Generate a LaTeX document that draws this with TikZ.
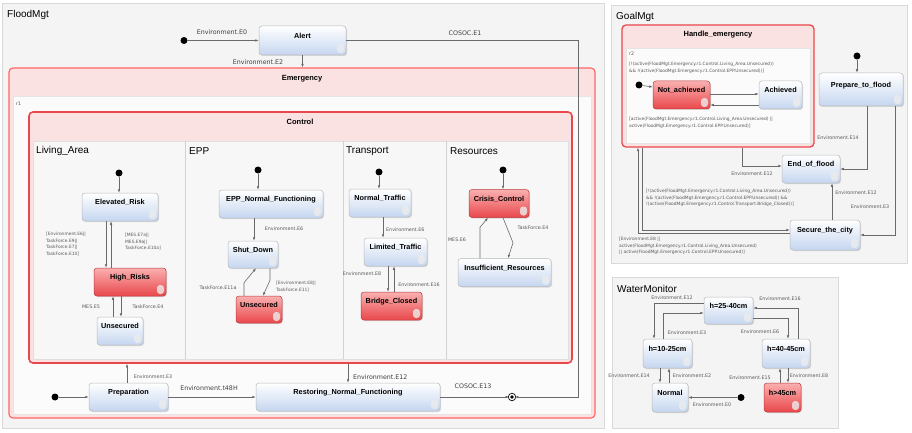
\documentclass[tikz,border=0pt]{standalone}
\usepackage{fontspec}
\setmainfont{Liberation Sans}
\newfontfamily\lblfont{DejaVu Sans}
\usetikzlibrary{arrows.meta,shadows}

\definecolor{stateblue}{HTML}{C5D6F0}
\definecolor{statered}{HTML}{E9474B}
\definecolor{statepink}{HTML}{FAB0B0}
\definecolor{bandpink}{HTML}{FBE2E2}
\definecolor{boxred}{HTML}{E8484B}
\definecolor{panelgray}{HTML}{F4F4F4}
\definecolor{linegray}{HTML}{6A6A6A}

\begin{document}
\begin{tikzpicture}
	[x=1pt, y=-1pt,
	state/.style={rectangle, rounded corners=3pt, draw=gray!55, line width=0.5pt, top color=white, bottom color=stateblue, font=\bfseries\fontsize{7.3}{8}\selectfont, text height=6pt, text depth=10.5pt, inner xsep=2pt, inner ysep=1pt, minimum height=28pt, drop shadow={opacity=0.25, shadow xshift=1pt, shadow yshift=-1pt}, path picture={\fill[gray!15, opacity=0.8] ([xshift=-2pt,yshift=2pt]path picture bounding box.south east) rectangle ++(-7pt,9pt);}},
	red state/.style={state, draw=statered!80!black, top color=statepink, bottom color=statered},
	init/.style={circle, fill=black, inner sep=0pt, minimum size=7pt},
	final/.style={circle, draw=black, fill=black, line width=0.8pt, double=white, double distance=1.4pt, inner sep=0pt, minimum size=5pt},
	tr/.style={draw=linegray, line width=0.6pt, -{Latex[length=3.5pt,width=2.6pt]}},
	lbl/.style={font=\lblfont\fontsize{6.3}{7}\selectfont, text=black!75, inner sep=0pt},
	small lbl/.style={font=\lblfont\fontsize{4.8}{5.5}\selectfont, text=black!65, inner sep=0pt},
	guard/.style={font=\lblfont\fontsize{4.4}{6.6}\selectfont, text=black!65, inner sep=0pt, align=left, anchor=north west},
	panel/.style={draw=gray!30, fill=panelgray},
	panel title/.style={font=\fontsize{10}{12}\selectfont, inner sep=0pt, anchor=west},
	container/.style={rectangle, rounded corners=4pt, fill=bandpink, inner sep=0pt},
	region/.style={rectangle, draw=gray!20, fill=white!97!gray, inner sep=0pt},
	box title/.style={font=\bfseries\fontsize{7.5}{9}\selectfont, inner sep=0pt}]
	\useasboundingbox[fill=white] (0,0) rectangle (912,433);

	%panels
	\foreach \a/\b/\c/\d/\t in {2/3/604/428/FloodMgt, 611/5/907/263/GoalMgt, 612/277/838/428/WaterMonitor}{
		\draw[panel] (\a,\b) rectangle (\c,\d);
		\node[panel title] (title-\t) at (\a+5,\b+12) {\t};
	}

	%FloodMgt containers
	\node[container, draw=red!60, line width=1.2pt, minimum width=586pt, minimum height=350pt] (emergency) at (302,243) {};
	\node[box title] (emergency-title) at (302,79) {Emergency};
	\node[region, minimum width=578pt, minimum height=318pt] (r1) at (302,255) {};
	\node[small lbl, anchor=west] (r1-label) at (16,104) {r1};
	\node[container, draw=boxred, line width=1.6pt, minimum width=543pt, minimum height=251pt] (control) at (300.5,237.5) {};
	\node[box title] (control-title) at (300,122) {Control};
	\node[region, draw=gray!25, fill=gray!6, minimum width=535pt, minimum height=218pt] (columns) at (300.5,250) {};
	\foreach \x in {185,343,446}
		\draw[gray!35] (\x,141) -- (\x,359);
	\foreach \x/\t [count=\i] in {36/Living\_Area, 189/EPP, 346/Transport, 450/Resources}
		\node[panel title] (col\i) at (\x,151) {\t};

	%top level
	\node[init] (fl0) at (184,40.5) {};
	\node[state, minimum width=87pt, minimum height=29pt] (alert) at (302.5,40.5) {Alert};
	\node[init] (fl1) at (55,397) {};
	\node[state, minimum width=79pt] (prep) at (128.5,397) {Preparation};
	\node[state, minimum width=184pt] (restoring) at (348,397) {Restoring\_Normal\_Functioning};
	\node[final] (fin) at (512,397) {};

	%Living_Area
	\node[init] (la0) at (119,173) {};
	\node[state, minimum width=76pt] (elevated) at (120,207) {Elevated\_Risk};
	\node[red state, minimum width=72pt] (high) at (130,282) {High\_Risks};
	\node[state, minimum width=46pt] (la-uns) at (120,331) {Unsecured};

	%EPP
	\node[init] (epp0) at (258,170) {};
	\node[state, minimum width=104pt] (epp-normal) at (271,204) {EPP\_Normal\_Functioning};
	\node[state, minimum width=50pt, minimum height=27pt] (shut) at (253,254.5) {Shut\_Down};
	\node[red state, minimum width=46pt, minimum height=27pt] (epp-uns) at (259,309.5) {Unsecured};

	%Transport
	\node[init] (tr0) at (379,172) {};
	\node[state, minimum width=62pt] (normal-traffic) at (380,203) {Normal\_Traffic};
	\node[state, minimum width=63pt] (limited) at (395.5,252) {Limited\_Traffic};
	\node[red state, minimum width=61pt] (bridge) at (391.5,306) {Bridge\_Closed};

	%Resources
	\node[init] (res0) at (503,170) {};
	\node[red state, minimum width=60pt] (crisis) at (499,203.5) {Crisis\_Control};
	\node[state, minimum width=93pt] (insuff) at (504.5,272.5) {Insufficient\_Resources};

	%FloodMgt transitions
	\draw[tr] (fl0) -- (fl0 -| alert.west);
	\node[lbl] (l-e0) at (222,32) {Environment.E0};
	\draw[tr] (alert) -- (alert |- emergency.north);
	\node[lbl] (l-e2) at (258,62) {Environment.E2};
	\draw[tr] (alert.east) -- ++(232,0) |- (fin);
	\node[lbl] (l-e1) at (465,33) {COSOC.E1};
	\draw[tr] (fl1) -- (prep);
	\draw[tr] (prep) -- (restoring);
	\node[lbl] (l-t48) at (209,388) {Environment.t48H};
	\draw[tr] ([xshift=-1.5pt]prep.north) -- ([xshift=-1.5pt]prep.north |- control.south);
	\node[small lbl] (l-e3) at (153,377) {Environment.E3};
	\draw[tr] (restoring.north |- control.south) -- (restoring.north);
	\node[lbl, anchor=west] (l-e12) at (353,377) {Environment.E12};
	\draw[tr] (restoring) -- (fin);
	\node[lbl] (l-e13) at (473,386) {COSOC.E13};

	\draw[tr] (la0) -- (la0 |- elevated.north);
	\draw[tr] ([xshift=-14pt]elevated.south) -- ([xshift=-14pt]elevated.south |- high.north);
	\draw[tr] ([xshift=-9pt]elevated.south |- high.north) -- ([xshift=-9pt]elevated.south);
	\draw[tr] ([xshift=1pt]la-uns.north |- high.south) -- ([xshift=1pt]la-uns.north);
	\draw[tr] ([xshift=-7pt]la-uns.north) -- ([xshift=-7pt]la-uns.north |- high.south);
	\node[guard] (g-la1) at (46,232) {[Environment.E6||\\TaskForce.E9||\\TaskForce.E7||\\TaskForce.E10]};
	\node[guard] (g-la2) at (125,233) {[MES.E7a||\\MES.E9a||\\TaskForce.E10a]};
	\node[small lbl] (l-mes5) at (91,307) {MES.E5};
	\node[small lbl] (l-tf4) at (148,307) {TaskForce.E4};

	\draw[tr] (epp0) -- (epp0 |- epp-normal.north);
	\draw[tr] ([xshift=1pt]shut.north |- epp-normal.south) -- ([xshift=1pt]shut.north);
	\node[small lbl] (l-epp6) at (284,229) {Environment.E6};
	\draw[tr] ([xshift=17pt]shut.south) -- ++(0,12) -- ([xshift=4pt]epp-uns.north);
	\draw[tr] ([xshift=-15pt]epp-uns.north) -- ++(0,-13) -- ([xshift=3pt]shut.south);
	\node[small lbl] (l-tf11a) at (218,288) {TaskForce.E11a};
	\node[guard] (g-epp) at (276,281) {[Environment.E8||\\TaskForce.E11]};

	\draw[tr] (tr0) -- (tr0 |- normal-traffic.north);
	\draw[tr] ([xshift=3pt]normal-traffic.south) -- ([xshift=3pt]normal-traffic.south |- limited.north);
	\node[small lbl, anchor=west] (l-tr6) at (386,230) {Environment.E6};
	\draw[tr] ([xshift=-3.5pt]bridge.north |- limited.south) -- ([xshift=-3.5pt]bridge.north);
	\draw[tr] ([xshift=2.5pt]bridge.north) -- ([xshift=2.5pt]bridge.north |- limited.south);
	\node[small lbl] (l-tr8) at (362,274) {Environment.E8};
	\node[small lbl] (l-tr16) at (419,285) {Environment.E16};

	\draw[tr] (res0) -- (res0 |- crisis.north);
	\draw[tr] ([xshift=4pt]crisis.south) -- ++(10,25) -- ([xshift=3.5pt]insuff.north);
	\draw[tr] ([xshift=-24.5pt]insuff.north) -- ++(0,-31) -- ([xshift=-11pt]crisis.south);
	\node[small lbl] (l-mes6) at (457,240) {MES.E6};
	\node[small lbl] (l-res4) at (533,228) {TaskForce.E4};

	%GoalMgt
	\node[container, draw=boxred, line width=1.3pt, minimum width=192pt, minimum height=122pt] (handle) at (718,86) {};
	\node[box title] (handle-title) at (718,35) {Handle\_emergency};
	\node[region, minimum width=184pt, minimum height=95pt] (r2) at (718,95.5) {};
	\node[small lbl, anchor=west] (r2-label) at (629,54) {r2};
	\node[init] (g0) at (639,85) {};
	\node[red state, minimum width=57pt] (not-ach) at (681.5,95) {Not\_achieved};
	\node[state, minimum width=43pt] (ach) at (780.5,95) {Achieved};
	\node[init] (g1) at (857,56) {};
	\node[state, minimum width=84pt, minimum height=33pt] (prepare) at (861,89.5) {Prepare\_to\_flood};
	\node[state, minimum width=58pt] (end-flood) at (811,169) {End\_of\_flood};
	\node[state, minimum width=70pt, minimum height=30pt] (secure) at (825,235) {Secure\_the\_city};

	\draw[tr] (g0) -- ([yshift=8pt]not-ach.west);
	\draw[tr] ([yshift=1pt]not-ach.east) -- ([yshift=1pt]not-ach.east -| ach.west);
	\draw[tr] ([yshift=-10pt]ach.west) -- ([yshift=-10pt]ach.west -| not-ach.east);
	\node[guard] (g-ach) at (629,62) {[!(active(FloodMgt.Emergency.r1.Control.Living\_Area.Unsecured))\\\&\& !(active(FloodMgt.Emergency.r1.Control.EPP.Unsecured))]};
	\node[guard] (g-notach) at (629,117) {[active(FloodMgt.Emergency.r1.Control.Living\_Area.Unsecured) ||\\active(FloodMgt.Emergency.r1.Control.EPP.Unsecured)]};
	\draw[tr] (g1) -- (g1 |- prepare.north);
	\draw[tr] ([xshift=6pt]prepare.south) |- (end-flood.east);
	\node[small lbl] (l-g14) at (838,138) {Environment.E14};
	\draw[tr] ([xshift=34pt]prepare.south) |- (secure.east);
	\node[small lbl] (l-g3) at (870,207) {Environment.E3};
	\draw[tr] ([xshift=7pt]secure.north) -- ([xshift=7pt]secure.north |- end-flood.south);
	\node[small lbl] (l-g12a) at (856,193) {Environment.E12};
	\draw[tr] ([xshift=24pt]handle.south) |- ([yshift=3pt]end-flood.west);
	\node[small lbl] (l-g12b) at (752,174) {Environment.E12};
	\draw[tr] ([xshift=-76pt]handle.south) |- ([yshift=5pt]secure.west);
	\node[guard] (g-secure) at (646,189) {[!(active(FloodMgt.Emergency.r1.Control.Living\_Area.Unsecured))\\\&\& !(active(FloodMgt.Emergency.r1.Control.EPP.Unsecured)) \&\&\\!(active(FloodMgt.Emergency.r1.Control.Transport.Bridge\_Closed))]};
	\draw[tr] ([yshift=2pt]secure.west) -| ([xshift=-80pt]handle.south);
	\node[guard] (g-handle) at (619,237) {[Environment.E8 ||\\active(FloodMgt.Emergency.r1.Control.Living\_Area.Unsecured)\\|| active(FloodMgt.Emergency.r1.Control.EPP.Unsecured)]};

	%WaterMonitor
	\node[state, minimum width=49pt, minimum height=27pt] (h25) at (728.5,310.5) {h=25-40cm};
	\node[state, minimum width=49pt, minimum height=29pt] (h10) at (667.5,353.5) {h=10-25cm};
	\node[state, minimum width=48pt, minimum height=29pt] (h40) at (786,353.5) {h=40-45cm};
	\node[state, minimum width=36pt, minimum height=29pt] (w-normal) at (670,397.5) {Normal};
	\node[red state, minimum width=37pt, minimum height=29pt] (h45) at (782.5,397.5) {h>45cm};
	\node[init] (w0) at (741,397.5) {};

	\draw[tr] (w0) -- (w-normal);
	\node[small lbl] (l-w0) at (712,405) {Environment.E0};
	\draw[tr] ([yshift=7.5pt]h25.west) -| ([xshift=-13.5pt]h10.north);
	\node[small lbl] (l-w12) at (672,298) {Environment.E12};
	\draw[tr] ([xshift=-4.5pt]h10.north) |- ([yshift=-2.5pt]h25.west);
	\node[small lbl] (l-w3) at (687,333) {Environment.E3};
	\draw[tr] ([yshift=-7.5pt]h25.east) -| ([xshift=2pt]h40.north);
	\node[small lbl] (l-w6) at (760,332) {Environment.E6};
	\draw[tr] ([xshift=12pt]h40.north) |- ([yshift=2.5pt]h25.east);
	\node[small lbl] (l-w16) at (780,299) {Environment.E16};
	\draw[tr] ([xshift=-7.5pt]h10.south) -- ([xshift=-7.5pt]h10.south |- w-normal.north);
	\node[small lbl] (l-w14) at (629,376) {Environment.E14};
	\draw[tr] ([xshift=1.5pt]h10.south |- w-normal.north) -- ([xshift=1.5pt]h10.south);
	\node[small lbl] (l-w2) at (692,376) {Environment.E2};
	\draw[tr] ([xshift=-6pt]h40.south |- h45.north) -- ([xshift=-6pt]h40.south);
	\node[small lbl] (l-w15) at (750,378) {Environment.E15};
	\draw[tr] ([xshift=2pt]h40.south) -- ([xshift=2pt]h40.south |- h45.north);
	\node[small lbl] (l-w8) at (809,376) {Environment.E8};
\end{tikzpicture}
\end{document}
